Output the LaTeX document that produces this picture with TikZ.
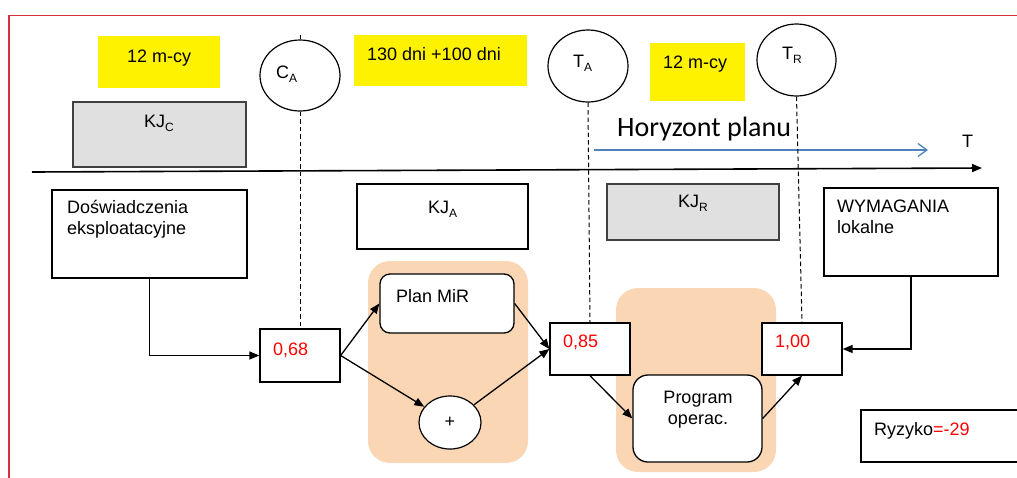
\documentclass[tikz,border=0pt]{standalone}
\usepackage{fontspec}
\setmainfont{Liberation Sans}
\newfontfamily\calib{Carlito}
\usetikzlibrary{shapes,arrows.meta,positioning}
\definecolor{peach}{HTML}{FAD6B4}
\definecolor{kjgray}{HTML}{E0E0E0}
\definecolor{axisblue}{HTML}{4F81BD}
\definecolor{framered}{HTML}{D2323C}
\newcommand{\sbs}[1]{\raisebox{-4pt}{\fontsize{12}{12}\selectfont #1}}

\begin{document}
\begin{tikzpicture}[
    x=1pt, y=-1pt,
    every node/.style={
        inner sep=0pt,
        font=\fontsize{18}{21}\selectfont
    },
    txt/.style={anchor=base west},
    box/.style={draw, line width=1.3pt},
    hl/.style={fill=yellow},
    kj/.style={draw=black!75, line width=1.1pt, fill=kjgray},
    circ/.style={ellipse, draw, line width=1.2pt},
    rbox/.style={box, fill=white, rounded corners=#1},
    val/.style={box, fill=white, minimum width=80pt, minimum height=52pt},
    num/.style={txt, text=red},
    zone/.style={fill=peach, rounded corners=22pt},
    arr/.style={line width=1.3pt, -{Triangle[length=10pt,width=8pt]}},
    guide/.style={dash pattern=on 4.5pt off 3pt, line width=1pt}
]
\useasboundingbox (0,0) rectangle (1017,477);
\draw[framered, line width=1.3pt] (9,490) |- (1030,15.7);

\fill[zone] (368,261) rectangle (528,463);
\fill[zone] (616,288) rectangle (776,472);

\node[hl, minimum width=122, minimum height=52] (m1) at (159,62) {};
\node[txt] (m1-t) at (127,62) {12 m-cy};
\node[hl, minimum width=173, minimum height=51] (d1) at (440.5,60.5) {};
\node[txt] (d1-t) at (367,60) {130 dni +100 dni};
\node[hl, minimum width=95, minimum height=58] (m2) at (697.5,72) {};
\node[txt] (m2-t) at (663,68) {12 m-cy};

\node[circ, minimum width=80, minimum height=71] (ca) at (300,75.5) {};
\node[txt] (ca-t) at (276,78) {C\sbs{A}};
\node[circ, minimum width=80, minimum height=72] (ta) at (588,66) {};
\node[txt] (ta-t) at (573,67) {T\sbs{A}};
\node[circ, minimum width=79, minimum height=72] (tr) at (796.5,60) {};
\node[txt] (tr-t) at (782,59) {T\sbs{R}};

\node[kj, minimum width=173, minimum height=65] (kjc) at (159.5,134.5) {};
\node[txt] (kjc-t) at (144,127) {KJ\sbs{C}};
\node[box, minimum width=171, minimum height=65] (kja) at (442.5,216.5) {};
\node[txt] (kja-t) at (428,213) {KJ\sbs{A}};
\node[kj, minimum width=172, minimum height=56] (kjr) at (693,212) {};
\node[txt] (kjr-t) at (678,207) {KJ\sbs{R}};

\node[txt, font=\calib\fontsize{28}{30}\selectfont] (hor) at (617,136) {Horyzont planu};
\node[txt] (t-lab) at (962,147) {T};
\coordinate (t0) at (32,172);
\coordinate (t1) at (982,168);
\coordinate (h0) at (594,150);
\coordinate (h1) at (928,150);
\draw[arr, line width=1.6pt] (t0) -- (t1);
\draw[axisblue, line width=1.3pt, -{Straight Barb[length=9pt,width=13pt]}] (h0) -- (h1);

\node[box, minimum width=195, minimum height=88] (dos) at (149.5,234) {};
\node[txt, text width=190pt, align=left] (dos-t) at (67,213) {Doświadczenia\\eksploatacyjne};
\node[box, minimum width=174, minimum height=88] (wym) at (911,232) {};
\node[txt, text width=170pt, align=left] (wym-t) at (837,212) {WYMAGANIA\\lokalne};

\node[rbox=10pt, minimum width=134, minimum height=59] (plan) at (447,303.5) {};
\node[txt] (plan-t) at (396,302) {Plan MiR};
\node[circ, fill=white, minimum width=62, minimum height=53] (plus) at (450,422.5) {+};
\node[rbox=15pt, minimum width=129, minimum height=87] (prog) at (697.5,418.5) {};
\node[anchor=base, text width=120pt, align=center] (prog-t) at (698,403) {Program\\operac.};

\node[val, minimum height=53] (v68) at (300,355.5) {};
\node[num] (v68-t) at (273,355) {0,68};
\node[val] (v85) at (590,349) {};
\node[num] (v85-t) at (563,347) {0,85};
\node[val] (v100) at (802,349) {};
\node[num] (v100-t) at (775,347) {1,00};

\node[box, minimum width=169, minimum height=52] (ryz) at (945.5,436) {};
\node[txt] (ryz-t) at (874,435) {Ryzyko\textcolor{red}{=-29}};

\draw[guide] (ca.north) -- ++(0,-5);
\draw[guide] (ca.south) -- (v68.north);
\draw[guide] (ta.south) -- (v85.north);
\draw[guide] (tr.south) -- (v100.north);

\draw[arr] (dos.south) |- (v68.west);
\draw[arr] (v68.east) -- (plan.west);
\draw[arr] (v68.east) -- (plus);
\draw[arr] (plan.east) -- (v85.west);
\draw[arr] (plus) -- (v85.west);
\draw[arr] (v85.south) -- (prog.west);
\draw[arr] (prog.east) -- (v100.south);
\draw[arr] (wym.south) |- (v100.east);
\end{tikzpicture}
\end{document}
